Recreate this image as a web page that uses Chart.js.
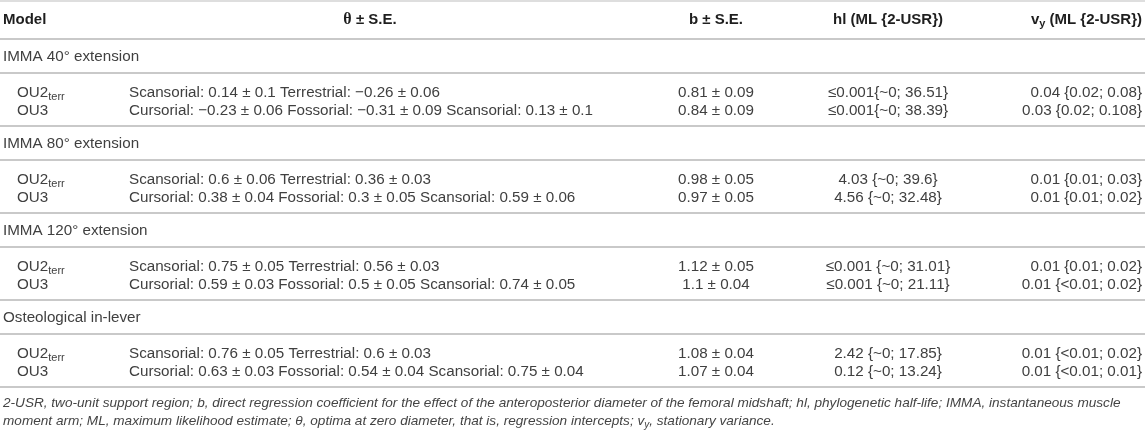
<!DOCTYPE html>
<html>
<head>
<meta charset="utf-8">
<script src="https://cdn.jsdelivr.net/npm/chart.js@4.4.1/dist/chart.umd.min.js"></script>
<style>
  html, body { margin: 0; padding: 0; background: #ffffff; }
  #wrap { position: relative; width: 1145px; height: 435px; }
</style>
</head>
<body>
<div id="wrap"><canvas id="c"></canvas></div>
<script>
// ---------------- DATA ----------------
const columnHeaders = ["Model", "θ ± S.E.", "b ± S.E.", "hl (ML {2-USR})", "vy (ML {2-USR})"];
const groups = ["IMMA 40° extension", "IMMA 80° extension", "IMMA 120° extension", "Osteological in-lever"];
const models = ["OU2", "OU3"];

// theta optima (OU2terr): Scansorial / Terrestrial
const ou2Scansorial    = [0.14, 0.6, 0.75, 0.76];
const ou2ScansorialSE  = [0.1, 0.06, 0.05, 0.05];
const ou2Terrestrial   = [-0.26, 0.36, 0.56, 0.6];
const ou2TerrestrialSE = [0.06, 0.03, 0.03, 0.03];
// theta optima (OU3): Cursorial / Fossorial / Scansorial
const ou3Cursorial     = [-0.23, 0.38, 0.59, 0.63];
const ou3CursorialSE   = [0.06, 0.04, 0.03, 0.03];
const ou3Fossorial     = [-0.31, 0.3, 0.5, 0.54];
const ou3FossorialSE   = [0.09, 0.05, 0.05, 0.04];
const ou3Scansorial    = [0.13, 0.59, 0.74, 0.75];
const ou3ScansorialSE  = [0.1, 0.06, 0.05, 0.04];
// regression coefficient b
const ou2B   = [0.81, 0.98, 1.12, 1.08];
const ou2BSE = [0.09, 0.05, 0.05, 0.04];
const ou3B   = [0.84, 0.97, 1.1, 1.07];
const ou3BSE = [0.09, 0.05, 0.04, 0.04];
// phylogenetic half-life
const ou2HL = ["≤0.001{~0; 36.51}", "4.03 {~0; 39.6}", "≤0.001 {~0; 31.01}", "2.42 {~0; 17.85}"];
const ou3HL = ["≤0.001{~0; 38.39}", "4.56 {~0; 32.48}", "≤0.001 {~0; 21.11}", "0.12 {~0; 13.24}"];
// stationary variance
const ou2VY = ["0.04 {0.02; 0.08}", "0.01 {0.01; 0.03}", "0.01 {0.01; 0.02}", "0.01 {<0.01; 0.02}"];
const ou3VY = ["0.03 {0.02; 0.108}", "0.01 {0.01; 0.02}", "0.01 {<0.01; 0.02}", "0.01 {<0.01; 0.01}"];

const footnoteLines = [
  "2-USR, two-unit support region; b, direct regression coefficient for the effect of the anteroposterior diameter of the femoral midshaft; hl, phylogenetic half-life; IMMA, instantaneous muscle",
  "moment arm; ML, maximum likelihood estimate; θ, optima at zero diameter, that is, regression intercepts; v|y|, stationary variance."
];

// ---------------- LAYOUT / STYLE ----------------
const W = 1145, H = 435;
const L = {
  groupX: 3, modelX: 17, thetaX: 129, thetaHeadC: 370, bC: 716, hlC: 888, vyR: 1142,
  headerY: 20, headerLine: 39, groupStep: 87,
  labelOff: 18, midLineOff: 34, row1Off: 53.5, row2Off: 72,
  footY: [403, 421]
};
const FONT = '"Liberation Sans", Arial, Helvetica, sans-serif';
const BODY = '#404040', HEAD = '#1e1e1e', FOOT = '#444444', RULE = '#c9c9c9';
const BODY_PX = 15.2, HEAD_PX = 15, SUB_PX = 11, FOOT_PX = 13.6;

function num(v) { return String(v).replace('-', '−'); }
function pm(v, se) { return num(v) + ' ± ' + num(se); }

function thetaText(m, g) {
  if (m === 0) {
    return 'Scansorial: ' + pm(ou2Scansorial[g], ou2ScansorialSE[g]) +
           ' Terrestrial: ' + pm(ou2Terrestrial[g], ou2TerrestrialSE[g]);
  }
  return 'Cursorial: ' + pm(ou3Cursorial[g], ou3CursorialSE[g]) +
         ' Fossorial: ' + pm(ou3Fossorial[g], ou3FossorialSE[g]) +
         ' Scansorial: ' + pm(ou3Scansorial[g], ou3ScansorialSE[g]);
}

const tablePlugin = {
  id: 'tablePlugin',
  afterDraw(chart) {
    const ctx = chart.ctx;
    const xs = chart.scales.x, ys = chart.scales.y;
    const X = v => xs.getPixelForValue(v);
    const Y = v => ys.getPixelForValue(v);
    ctx.save();
    ctx.textBaseline = 'middle';

    function rule(y, color, w) {
      ctx.fillStyle = color || RULE;
      const lw = w || 2;
      ctx.fillRect(X(0), Math.round(Y(y) - lw / 2), X(W) - X(0), lw);
    }
    function text(s, x, y, align, font, color) {
      ctx.font = font; ctx.fillStyle = color; ctx.textAlign = align;
      ctx.fillText(s, X(x), Y(y));
    }
    function textSub(base, sub, x, y, font, subFont, color) {
      ctx.font = font; const bw = ctx.measureText(base).width;
      const x0 = X(x);
      ctx.textAlign = 'left'; ctx.fillStyle = color;
      ctx.font = font; ctx.fillText(base, x0, Y(y));
      ctx.font = subFont; ctx.fillText(sub, x0 + bw, Y(y) + 4);
    }

    // top border
    rule(1, '#dedede', 2);

    // header
    const hf = 'bold ' + HEAD_PX + 'px ' + FONT;
    const thf = 'bold 16px "Liberation Serif", "DejaVu Serif", serif';
    text(columnHeaders[0], L.groupX, L.headerY, 'left', hf, HEAD);
    ctx.font = thf;
    const th = 'θ';
    const thw = ctx.measureText(th).width;
    ctx.font = hf;
    const rest = columnHeaders[1].slice(1);
    const rw = ctx.measureText(rest).width;
    const tx = X(L.thetaHeadC) - (thw + rw) / 2;
    ctx.textAlign = 'left'; ctx.fillStyle = HEAD;
    ctx.font = thf; ctx.fillText(th, tx, Y(L.headerY));
    ctx.font = hf; ctx.fillText(rest, tx + thw, Y(L.headerY));
    text(columnHeaders[2], L.bC, L.headerY, 'center', hf, HEAD);
    text(columnHeaders[3], L.hlC, L.headerY, 'center', hf, HEAD);
    // vy header with subscript
    const hsf = 'bold ' + SUB_PX + 'px ' + FONT;
    ctx.font = hf;
    const vyRest = columnHeaders[4].slice(2);
    const vyRestW = ctx.measureText(vyRest).width;
    const vw = ctx.measureText('v').width;
    ctx.font = hsf; const yw = ctx.measureText('y').width;
    const vx = X(L.vyR) - vyRestW - vw - yw;
    ctx.textAlign = 'left'; ctx.fillStyle = HEAD;
    ctx.font = hf; ctx.fillText('v', vx, Y(L.headerY));
    ctx.font = hsf; ctx.fillText('y', vx + vw, Y(L.headerY) + 4);
    ctx.font = hf; ctx.fillText(vyRest, vx + vw + yw, Y(L.headerY));
    rule(L.headerLine);

    const bf = BODY_PX + 'px ' + FONT;
    const sf = SUB_PX + 'px ' + FONT;
    groups.forEach((gName, g) => {
      const top = L.headerLine + g * L.groupStep;
      text(gName, L.groupX, top + L.labelOff, 'left', bf, BODY);
      rule(top + L.midLineOff);
      [top + L.row1Off, top + L.row2Off].forEach((ry, m) => {
        if (m === 0) textSub(models[0], 'terr', L.modelX, ry, bf, sf, BODY);
        else text(models[1], L.modelX, ry, 'left', bf, BODY);
        text(thetaText(m, g), L.thetaX, ry, 'left', bf, BODY);
        const b = m === 0 ? pm(ou2B[g], ou2BSE[g]) : pm(ou3B[g], ou3BSE[g]);
        text(b, L.bC, ry, 'center', bf, BODY);
        text(m === 0 ? ou2HL[g] : ou3HL[g], L.hlC, ry, 'center', bf, BODY);
        text(m === 0 ? ou2VY[g] : ou3VY[g], L.vyR, ry, 'right', bf, BODY);
      });
      rule(top + L.groupStep);
    });

    // footnote (italic), supports |sub| markers
    const ff = 'italic ' + FOOT_PX + 'px ' + FONT;
    const fsf = 'italic 10px ' + FONT;
    footnoteLines.forEach((line, i) => {
      const parts = line.split('|');
      let x = X(L.groupX);
      const y = Y(L.footY[i]);
      ctx.textAlign = 'left'; ctx.fillStyle = FOOT;
      parts.forEach((p, k) => {
        const isSub = k % 2 === 1;
        ctx.font = isSub ? fsf : ff;
        ctx.fillText(p, x, y + (isSub ? 4 : 0));
        x += ctx.measureText(p).width;
      });
    });
    ctx.restore();
  }
};

new Chart(document.getElementById('c'), {
  type: 'scatter',
  data: { datasets: [{ data: [], pointRadius: 0 }] },
  options: {
    responsive: true,
    maintainAspectRatio: false,
    animation: false,
    layout: { padding: 0 },
    plugins: { legend: { display: false }, tooltip: { enabled: false } },
    scales: {
      x: { type: 'linear', min: 0, max: W, display: false },
      y: { type: 'linear', min: 0, max: H, reverse: true, display: false }
    }
  },
  plugins: [tablePlugin]
});
</script>
</body>
</html>
